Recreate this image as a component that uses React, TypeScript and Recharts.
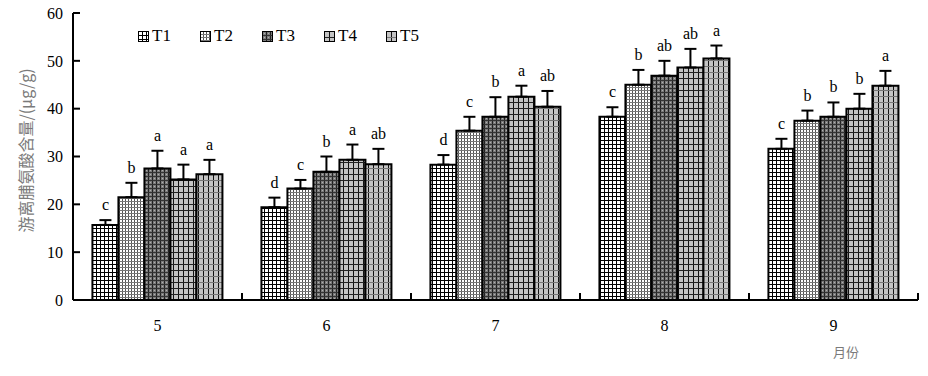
import React from 'react';
import { BarChart, Bar, XAxis, YAxis, ErrorBar, LabelList, Legend } from 'recharts';

const months = ['5', '6', '7', '8', '9'];
const seriesNames = ['T1', 'T2', 'T3', 'T4', 'T5'];

const T1 = [15.7, 19.4, 28.3, 38.3, 31.6];
const T2 = [21.5, 23.3, 35.4, 45.0, 37.5];
const T3 = [27.5, 26.8, 38.3, 46.9, 38.3];
const T4 = [25.2, 29.3, 42.5, 48.6, 40.0];
const T5 = [26.3, 28.4, 40.4, 50.5, 44.8];

const T1err = [1.0, 2.0, 2.0, 2.0, 2.1];
const T2err = [3.0, 1.8, 2.9, 3.1, 2.1];
const T3err = [3.7, 3.2, 4.1, 3.1, 3.0];
const T4err = [3.1, 3.2, 2.3, 3.9, 3.1];
const T5err = [3.0, 3.2, 3.3, 2.7, 3.1];

const T1sig = ['c', 'd', 'd', 'c', 'c'];
const T2sig = ['b', 'c', 'c', 'b', 'b'];
const T3sig = ['a', 'b', 'b', 'ab', 'b'];
const T4sig = ['a', 'a', 'a', 'ab', 'b'];
const T5sig = ['a', 'ab', 'ab', 'a', 'a'];

const yTicks = [0, 10, 20, 30, 40, 50, 60];

const values = [T1, T2, T3, T4, T5];
const errs = [T1err, T2err, T3err, T4err, T5err];
const sigs = [T1sig, T2sig, T3sig, T4sig, T5sig];

const data = months.map((m, i) => {
  const row: any = { month: m };
  seriesNames.forEach((s, k) => {
    row[s] = values[k][i];
    row[s + 'e'] = [0, errs[k][i]];
    row[s + 'l'] = sigs[k][i];
  });
  return row;
});

const SERIF = '"Liberation Serif", "Times New Roman", serif';
const CJK = '"Noto Sans CJK SC", sans-serif';

const Patterns = () => (
  <defs>
    <pattern id="pT1" width="4" height="4" patternUnits="userSpaceOnUse">
      <rect width="4" height="4" fill="#ffffff" />
      <rect x="0" y="0" width="1" height="4" fill="#000" />
      <rect x="0" y="0" width="4" height="1" fill="#000" />
    </pattern>
    <pattern id="pT2" width="3" height="3" patternUnits="userSpaceOnUse">
      <rect width="3" height="3" fill="#ffffff" />
      <rect x="0" y="0" width="1" height="3" fill="#555" />
      <rect x="0" y="0" width="3" height="1" fill="#777" />
    </pattern>
    <pattern id="pT3" width="4" height="4" patternUnits="userSpaceOnUse">
      <rect width="4" height="4" fill="#7a7a7a" />
      <rect x="0" y="0" width="1" height="4" fill="#222" />
      <rect x="0" y="0" width="4" height="1" fill="#333" />
      <rect x="2" y="2" width="1" height="1" fill="#b0b0b0" />
    </pattern>
    <pattern id="pT4" width="5" height="6" patternUnits="userSpaceOnUse">
      <rect width="5" height="6" fill="#c4c4c4" />
      <rect x="0" y="0" width="1" height="6" fill="#111" />
      <rect x="0" y="0" width="5" height="1" fill="#222" />
    </pattern>
    <pattern id="pT5" width="5" height="6" patternUnits="userSpaceOnUse">
      <rect width="5" height="6" fill="#c4c4c4" />
      <rect x="0" y="0" width="1" height="6" fill="#111" />
      <rect x="0" y="0" width="5" height="1" fill="#777" />
    </pattern>
  </defs>
);

const makeSigLabel = (k: number) => (props: any) => {
  const { x, y, width, height, index } = props;
  const v = values[k][index];
  const pxPer = height / v;
  const top = y - errs[k][index] * pxPer;
  return (
    <text
      x={x + width / 2}
      y={top - 10}
      textAnchor="middle"
      fontFamily={SERIF}
      fontSize={16}
      fill="#000"
    >
      {sigs[k][index]}
    </text>
  );
};

const LegendContent = () => (
  <div style={{ display: 'flex', alignItems: 'center', fontFamily: SERIF, fontSize: 17 }}>
    {seriesNames.map((s) => (
      <div key={s} style={{ display: 'flex', alignItems: 'center', width: 62 }}>
        <svg width={11} height={11} style={{ marginRight: 3 }}>
          <rect x={0.5} y={0.5} width={10} height={10} fill={`url(#p${s})`} stroke="#000" strokeWidth={1} />
        </svg>
        <span>{s}</span>
      </div>
    ))}
  </div>
);

const YLabel = (props: any) => {
  const { viewBox } = props;
  const cx = viewBox.x + 17;
  const cy = viewBox.y + viewBox.height / 2 - 6;
  return (
    <text
      x={cx}
      y={cy}
      transform={`rotate(-90 ${cx} ${cy})`}
      textAnchor="middle"
      dominantBaseline="central"
      fontFamily={CJK}
      fontSize={16}
      fill="#7a7a7a"
    >
      游离脯氨酸含量/(μg/g)
    </text>
  );
};

const XLabel = (props: any) => {
  const { viewBox } = props;
  return (
    <text
      x={viewBox.x + viewBox.width - 72}
      y={viewBox.y + 51}
      textAnchor="middle"
      dominantBaseline="central"
      fontFamily={CJK}
      fontSize={13}
      fill="#7a7a7a"
    >
      月份
    </text>
  );
};

const MonthTick = (props: any) => {
  const { x, y, payload } = props;
  const half = payload && typeof payload.offset === 'number' ? payload.offset : 0;
  return (
    <g>
      <line x1={x + half} x2={x + half} y1={y} y2={y - 7} stroke="#000" strokeWidth={2} />
      <text
        x={x}
        y={y + 20}
        dy="0.71em"
        textAnchor="middle"
        fontFamily={SERIF}
        fontSize={16}
        fill="#000"
      >
        {payload.value}
      </text>
    </g>
  );
};

export default function App() {
  return (
    <div style={{ marginTop: -8 }}>
      <BarChart
        width={920}
        height={376}
        data={data}
        margin={{ top: 13, right: 10, left: 0, bottom: 46 }}
        barCategoryGap="11.5%"
        barGap={0}
      >
        <Patterns />
        <XAxis
          dataKey="month"
          height={30}
          interval={0}
          axisLine={{ stroke: '#000', strokeWidth: 2 }}
          tickLine={false}
          tickSize={0}
          tickMargin={0}
          tick={<MonthTick />}
          label={<XLabel />}
        />
        <YAxis
          width={65}
          domain={[0, 60]}
          ticks={yTicks}
          interval={0}
          axisLine={{ stroke: '#000', strokeWidth: 2 }}
          tickLine={{ stroke: '#000', strokeWidth: 2 }}
          tickSize={-7}
          tickMargin={17}
          tick={{ fontFamily: SERIF, fontSize: 16, fill: '#000' }}
          label={<YLabel />}
        />
        <Legend
          layout="horizontal"
          verticalAlign="middle"
          align="center"
          wrapperStyle={{ top: 26, left: 130, width: 330 }}
          content={<LegendContent />}
        />
        {seriesNames.map((s, k) => (
          <Bar
            key={s}
            dataKey={s}
            fill={`url(#p${s})`}
            stroke="#000"
            strokeWidth={2}
            isAnimationActive={false}
          >
            <ErrorBar dataKey={s + 'e'} stroke="#000" strokeWidth={2} width={6} direction="y" />
            <LabelList dataKey={s + 'l'} content={makeSigLabel(k)} />
          </Bar>
        ))}
      </BarChart>
    </div>
  );
}
